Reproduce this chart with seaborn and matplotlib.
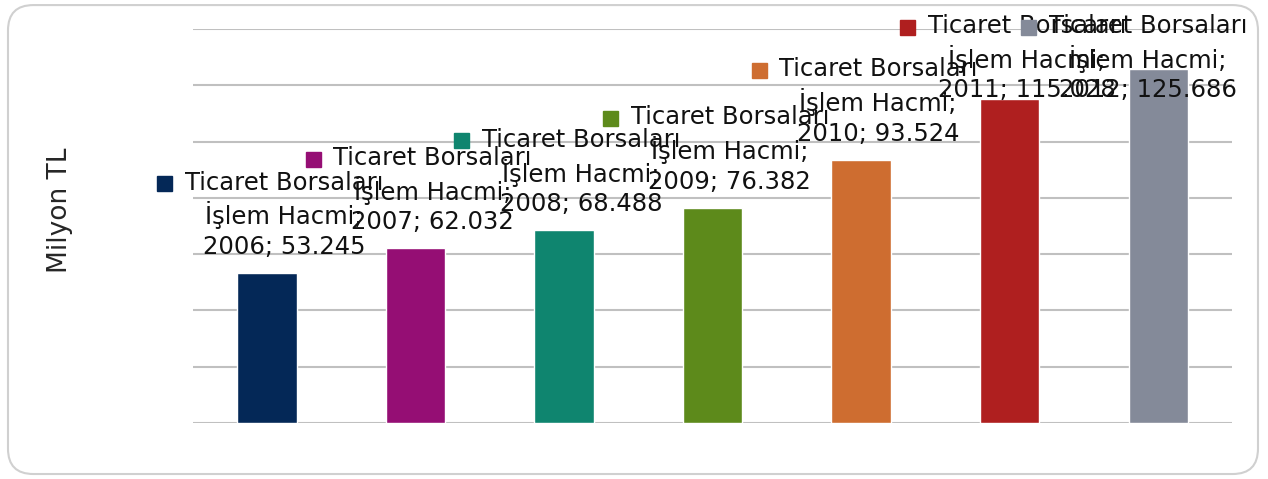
import matplotlib
matplotlib.use('Agg')

import pandas as pd
import seaborn as sns
import matplotlib.pyplot as plt
from matplotlib.patches import FancyBboxPatch, Rectangle

years = ['2006', '2007', '2008', '2009', '2010', '2011', '2012']
volume = [53.245, 62.032, 68.488, 76.382, 93.524, 115.028, 125.686]
colors = ['#042857', '#950E74', '#0F856F', '#5D8A1B', '#CE6D30', '#AF1F1F', '#848A99']

df = pd.DataFrame({'Year': years, 'Volume': volume})

sns.set_theme(style='white')
plt.rcParams['font.family'] = ['DejaVu Sans']

fig = plt.figure(figsize=(12.68, 4.79), dpi=100)
ax = fig.add_axes([0.152, 0.117, 0.820, 0.822])

# rounded chart border
fig.patches.append(FancyBboxPatch((0.0063, 0.0104), 0.9858, 0.979,
                                  boxstyle='round,pad=0,rounding_size=0.02',
                                  mutation_aspect=12.68 / 4.79,
                                  transform=fig.transFigure, facecolor='white',
                                  edgecolor='#d0d0d0', linewidth=1.5, zorder=-5))

sns.barplot(data=df, x='Year', y='Volume', hue='Year', palette=colors,
            width=0.4, legend=False, ax=ax, saturation=1, zorder=3)

ax.set_ylim(0, 140)
ax.set_yticks(range(0, 141, 20))
ax.yaxis.grid(True, color='#c0c0c0', linewidth=1.5, zorder=0)
ax.set_yticklabels([])
ax.set_xticklabels([])
ax.tick_params(length=0)
for s in ax.spines.values():
    s.set_visible(False)
ax.set_xlabel('')
ax.set_ylabel('Milyon TL', fontsize=19, color='#262626')
ax.yaxis.set_label_coords(-0.115, 0.54)
ax.patch.set_alpha(0)

# data labels with series key
texts = []
for i, (yr, v) in enumerate(zip(years, volume)):
    x = min(i + 0.115, len(years) - 1 - 0.07)
    y = min(v + 5.0, 114.0)
    t = ax.text(x, y, f'Ticaret Borsaları\nİşlem Hacmi;\n{yr}; {v:.3f}',
                ha='center', va='bottom', multialignment='center',
                fontsize=17.5, color='#111111', linespacing=1.3, zorder=5)
    texts.append(t)

fig.canvas.draw()
r = fig.canvas.get_renderer()
inv = ax.transData.inverted()
for t, c in zip(texts, colors):
    bb = t.get_window_extent(r)
    line_h = bb.height / 3
    cx = bb.x0 - 20
    cy = bb.y1 - line_h * 0.45
    (x0, y0) = inv.transform((cx - 7.5, cy - 7.5))
    (x1, y1) = inv.transform((cx + 7.5, cy + 7.5))
    ax.add_patch(Rectangle((x0, y0), x1 - x0, y1 - y0, color=c,
                           zorder=5, clip_on=False))

fig.savefig('out.png', dpi=100)
